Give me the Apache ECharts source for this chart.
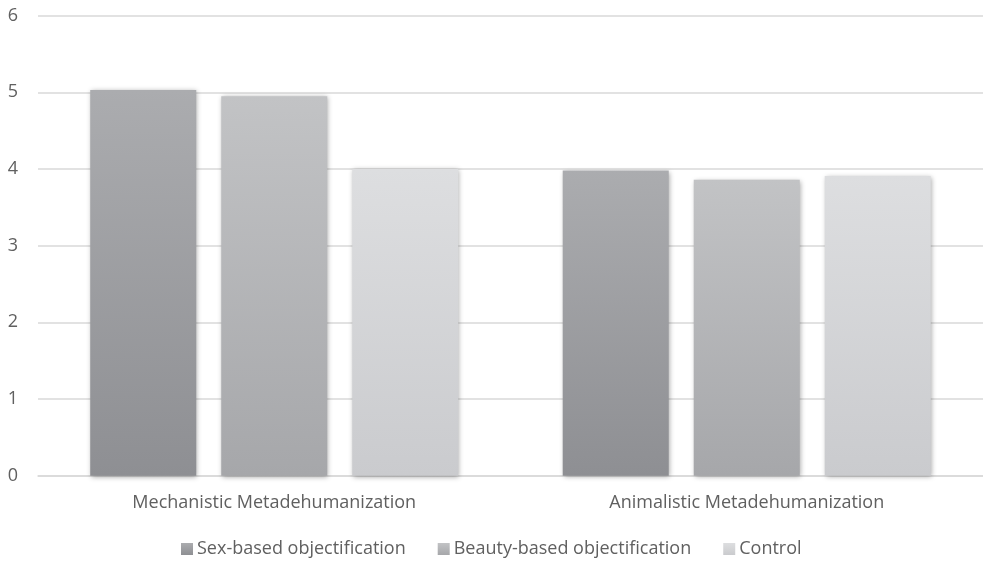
<!DOCTYPE html>
<html>
<head>
<meta charset="utf-8">
<script src="https://cdn.jsdelivr.net/npm/echarts@6/dist/echarts.min.js"></script>
<style>html,body{margin:0;padding:0;background:#fff;}#c{width:983px;height:563px;}</style>
</head>
<body>
<div id="c"></div>
<script>
const categories = ["Mechanistic Metadehumanization", "Animalistic Metadehumanization"];
const seriesNames = ["Sex-based objectification", "Beauty-based objectification", "Control"];
const sexBased = [5.03, 3.98];
const beautyBased = [4.95, 3.86];
const control = [4.0, 3.91];
const yTicks = [0, 1, 2, 3, 4, 5, 6];

function grad(top, bottom) {
  return new echarts.graphic.LinearGradient(0, 0, 0, 1, [
    {offset: 0, color: top}, {offset: 1, color: bottom}
  ]);
}
const colors = [
  grad('#abacaf', '#8e8f93'),
  grad('#c2c3c5', '#a6a7aa'),
  grad('#dddee0', '#cacbce')
];
const font = '"Open Sans", "DejaVu Sans", sans-serif';
const dataSets = [sexBased, beautyBased, control];

const chart = echarts.init(document.getElementById('c'), null, {renderer: 'canvas'});
chart.setOption({
  animation: false,
  backgroundColor: '#fff',
  textStyle: {fontFamily: font},
  grid: {left: 38, right: 0, top: 15.7, bottom: 87.3},
  legend: {
    bottom: 0,
    left: 176,
    itemWidth: 12,
    itemHeight: 12,
    itemGap: 32,
    icon: 'rect',
    textStyle: {fontFamily: font, fontSize: 18, color: '#606060', padding: [0, 0, 0, -1]},
    data: seriesNames
  },
  xAxis: {
    type: 'category',
    data: categories,
    axisTick: {show: false},
    axisLine: {lineStyle: {color: '#d9d9d9', width: 1.5}},
    axisLabel: {fontFamily: font, fontSize: 18, color: '#606060', margin: 18}
  },
  yAxis: {
    type: 'value',
    min: yTicks[0],
    max: yTicks[yTicks.length - 1],
    interval: 1,
    axisLine: {show: false},
    axisTick: {show: false},
    splitLine: {lineStyle: {color: '#d9d9d9', width: 1.5}},
    axisLabel: {fontFamily: font, fontSize: 18, color: '#606060', margin: 20}
  },
  series: seriesNames.map((name, i) => ({
    name: name,
    type: 'bar',
    data: dataSets[i],
    barWidth: 106,
    barGap: '23.6%',
    itemStyle: {
      color: colors[i],
      shadowBlur: 5,
      shadowColor: 'rgba(0,0,0,0.35)',
      shadowOffsetX: 1,
      shadowOffsetY: 1
    }
  }))
});
</script>
</body>
</html>
